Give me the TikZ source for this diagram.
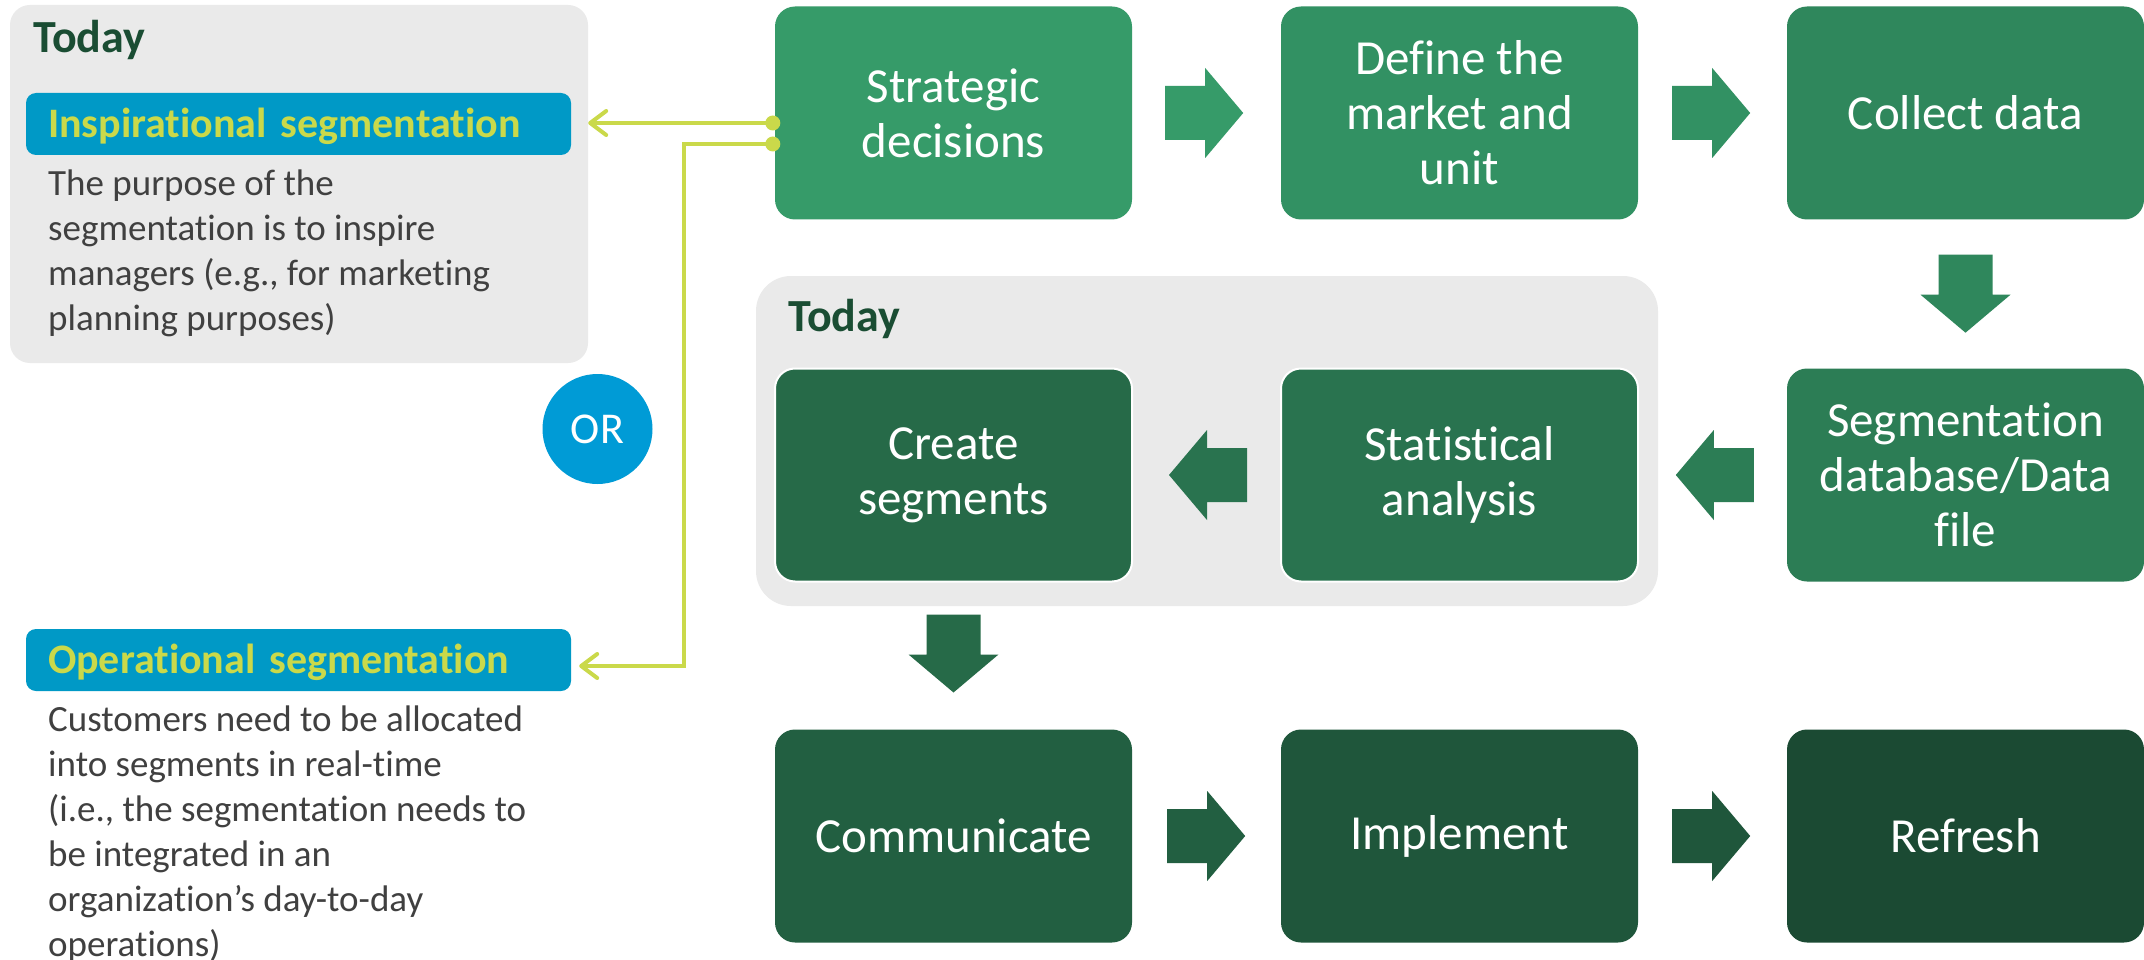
\documentclass[tikz,border=0pt]{standalone}
\usepackage{fontspec}
\setmainfont{Carlito}[Ligatures=CommonOff]
\usetikzlibrary{arrows.meta,calc}
\definecolor{g0}{RGB}{54,155,105}
\definecolor{g1}{RGB}{50,145,99}
\definecolor{g2}{RGB}{47,135,92}
\definecolor{g3}{RGB}{44,125,85}
\definecolor{g4}{RGB}{41,115,79}
\definecolor{g5}{RGB}{38,106,72}
\definecolor{g6}{RGB}{34,95,65}
\definecolor{g7}{RGB}{31,86,59}
\definecolor{g8}{RGB}{27,74,51}
\definecolor{panelgrey}{RGB}{234,234,234}
\definecolor{barblue}{RGB}{0,153,198}
\definecolor{orblue}{RGB}{0,155,214}
\definecolor{limegreen}{RGB}{202,217,74}
\definecolor{titlegreen}{RGB}{26,77,51}
\definecolor{bodygrey}{RGB}{64,64,64}
\newcommand\blockarr[3]{%
  \fill[#3, shift={#1}, rotate=#2] (0,-27) -- (40,-27) -- (40,-45) -- (78,0) -- (40,45) -- (40,27) -- (0,27) -- cycle;}
\tikzset{
  gbox/.style={rectangle, rounded corners=20pt, minimum width=357pt, minimum height=213pt,
    inner sep=0pt, text=white, align=center, font=\fontsize{49}{55}\selectfont},
  inbox/.style={gbox, draw=white, line width=2pt},
  panel/.style={rectangle, fill=panelgrey, inner sep=0pt},
  bar/.style={rectangle, fill=barblue, rounded corners=10pt, minimum width=545pt, minimum height=62pt,
    inner xsep=22pt, inner ysep=0pt, text width=501pt, align=left, text height=27pt, text depth=0pt,
    text=limegreen, font=\bfseries\fontsize{42}{42}\selectfont},
  body/.style={anchor=base west, inner sep=0pt, align=left, text=bodygrey, font=\fontsize{37}{45}\selectfont},
  todaylbl/.style={anchor=base west, inner sep=0pt, text=titlegreen, font=\bfseries\fontsize{46}{46}\selectfont},
  conn/.style={draw=limegreen, line width=4pt, line join=miter, -{Straight Barb[length=16pt,width=24pt,round]}},
}
\begin{document}
\begin{tikzpicture}[x=1pt,y=-1pt]
\useasboundingbox (0,0) rectangle (2144,960);
\fill[white] (0,0) rectangle (2144,960);

% left panel
\node[panel, rounded corners=20pt, minimum width=578pt, minimum height=358pt] (todayL) at (299,184) {};
\node[todaylbl] (todayLt) at (33,53) {Today};
\node[bar] (insp) at (298.5,124) {Inspirational segmentation};
% base anchor of a multi-line node = baseline of its last line
\node[body] (insptxt) at (48,330) {The purpose of the\\segmentation is to inspire\\managers (e.g., for marketing\\planning purposes)};

% OR
\node[circle, fill=orblue, minimum size=110pt, inner sep=0pt, text=white, font=\fontsize{44}{44}\selectfont] (or) at (597.5,429) {OR};

% operational
\node[bar] (oper) at (298.5,660) {Operational segmentation};
\node[body] (opertxt) at (48,956) {Customers need to be allocated\\into segments in real-time\\(i.e., the segmentation needs to\\be integrated in an\\organization’s day-to-day\\operations)};

% middle panel
\node[panel, rounded corners=35pt, minimum width=902pt, minimum height=330pt] (todayM) at (1207,441) {};
\node[todaylbl] (todayMt) at (788,331) {Today};

% boxes
\node[gbox, fill=g0] (strat) at (953.5,113) {Strategic\\decisions};
\node[gbox, fill=g1] (define) at (1459.5,113) {Define the\\market and\\unit};
\node[gbox, fill=g2] (collect) at (1965.5,113) {Collect data};
\node[gbox, fill=g3] (segdb) at (1965.5,475) {Segmentation\\database/Data\\file};
\node[inbox, fill=g4] (stat) at (1459.5,475) {Statistical\\analysis};
\node[inbox, fill=g5] (create) at (953.5,475) {Create\\segments};
\node[gbox, fill=g6] (comm) at (953.5,836) {Communicate};
\node[gbox, fill=g7] (impl) at (1459.5,836) {Implement};
\node[gbox, fill=g8] (refresh) at (1965.5,836) {Refresh};

% block arrows
\blockarr{($(strat.east)+(33,0)$)}{0}{g0}
\blockarr{($(define.east)+(34,0)$)}{0}{g1}
\blockarr{($(collect.south)+(0,35)$)}{-90}{g2}
\blockarr{($(segdb.west)+(-33,0)$)}{180}{g3}
\blockarr{($(stat.west)+(-33,0)$)}{180}{g4}
\blockarr{($(create.south)+(0,32)$)}{-90}{g5}
\blockarr{($(comm.east)+(35,0)$)}{0}{g6}
\blockarr{($(impl.east)+(34,0)$)}{0}{g7}

% connectors
\coordinate (d1) at ($(strat.west)+(-2,10)$);
\coordinate (d2) at ($(strat.west)+(-2,31)$);
\coordinate (bx) at (684,0);
\coordinate (optip) at ($(oper.east)+(8,6)$);
\draw[conn] (d1) -- (d1 -| todayL.east);
\draw[conn] (d2) -- (d2 -| bx) |- (optip);
\fill[limegreen] (d1) circle (7.5pt);
\fill[limegreen] (d2) circle (7.5pt);
\end{tikzpicture}
\end{document}
